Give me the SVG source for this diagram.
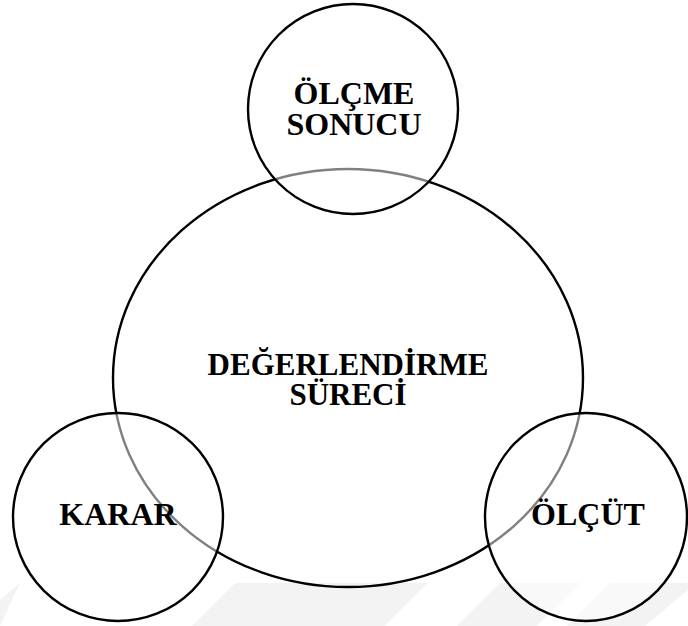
<svg xmlns="http://www.w3.org/2000/svg" width="688" height="626" viewBox="0 0 688 626">
<style>
.c{fill:none;stroke:#000;stroke-width:2.4}
.s{fill:#fff;fill-opacity:0.5;stroke:#000;stroke-width:2.4}
.t{font-family:"Liberation Serif","Times New Roman",serif;font-weight:bold;font-size:32px;fill:#000;text-anchor:middle}
.b{font-size:31px}
.w{fill:#f3f3f3}
</style>
<g id="watermark">
<polygon class="w" points="0,600 20,583 0,626"/>
<polygon class="w" points="235,583 428,583 385,626 192,626"/>
<polygon class="w" points="500,583 580,583 537,626 457,626"/>
<polygon class="w" points="610,583 688,583 688,590 645,626 567,626"/>
</g>
<g id="degerlendirme">
<ellipse class="c" cx="348" cy="378" rx="235" ry="209"/>
<text class="t b" x="348" y="375">DEĞERLENDİRME</text>
<text class="t b" x="348" y="405">SÜRECİ</text>
</g>
<g id="olcme-sonucu">
<ellipse class="s" cx="353" cy="109" rx="105" ry="105"/>
<text class="t" x="354" y="104">ÖLÇME</text>
<text class="t" x="354" y="135">SONUCU</text>
</g>
<g id="karar">
<ellipse class="s" cx="118" cy="517" rx="105" ry="104"/>
<text class="t" x="118" y="525">KARAR</text>
</g>
<g id="olcut">
<ellipse class="s" cx="586" cy="517" rx="101" ry="104"/>
<text class="t" x="588" y="525">ÖLÇÜT</text>
</g>
<g id="connectors"/>
</svg>
